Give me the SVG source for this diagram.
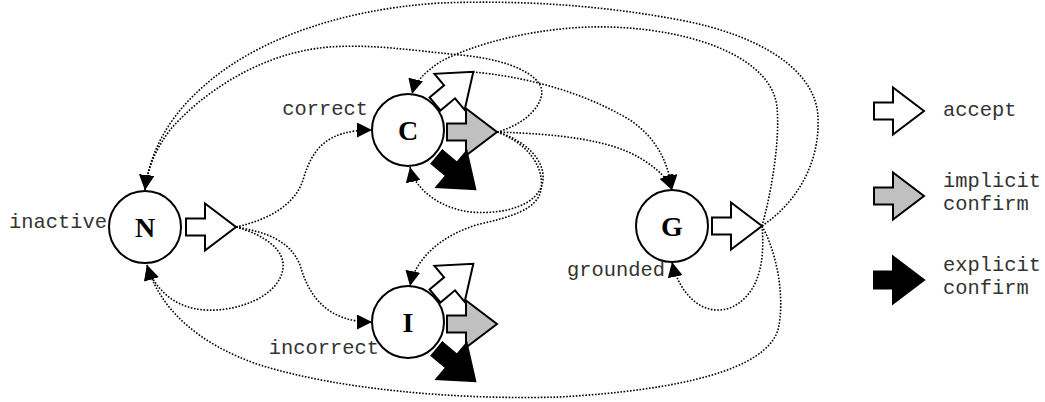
<svg xmlns="http://www.w3.org/2000/svg" width="1045" height="402" viewBox="0 0 1045 402">
<style>
.st{fill:#fff;stroke:#000;stroke-width:2}
.lt{font-family:"Liberation Serif","Times New Roman",serif;font-weight:bold;font-size:28px;text-anchor:middle;fill:#000}
.nm{font-family:"Liberation Mono","Courier New",monospace;font-size:20.4px;fill:#333}
.acc{fill:#fff;stroke:#000;stroke-width:2;stroke-linejoin:miter}
.imp{fill:#c0c0c0;stroke:#000;stroke-width:2;stroke-linejoin:miter}
.exp{fill:#000;stroke:#000;stroke-width:2;stroke-linejoin:miter}
.cn{fill:none;stroke:#000;stroke-width:1.6;stroke-dasharray:1.6 1.6;marker-end:url(#ah)}
.cn0{fill:none;stroke:#000;stroke-width:1.6;stroke-dasharray:1.6 1.6}
</style>
<defs>
<marker id="ah" markerUnits="userSpaceOnUse" markerWidth="15" markerHeight="15" refX="15" refY="7.5" orient="auto">
<path d="M0,0 L15,7.5 L0,15 Z" fill="#000"/>
</marker>
<path id="arr" d="M0,-8.5 L19,-8.5 L19,-23.5 L50,0 L19,23.5 L19,8.5 L0,8.5 Z"/>
</defs>
<rect width="1045" height="402" fill="#fff"/>
<g id="connectors">
<path class="cn" d="M236,227 C268,220 295,205 303,180 C312,150 325,130 372,130"/>
<path class="cn" d="M236,227 C265,232 290,240 300,265 C310,300 330,322 372,322"/>
<path class="cn" d="M236,227 C265,235 285,250 283,268 C280,295 240,312 205,310 C175,308 155,290 147,265"/>
<path class="cn" d="M762,226 C778,255 785,300 778,330 C765,370 680,390 560,397 C460,400 340,390 260,365 C200,345 160,310 147,265"/>
<path class="cn" d="M762,226 C800,200 820,160 818,117 C816,70 760,35 680,20 C600,5 520,0 440,3 C330,10 250,45 205,85 C170,115 150,150 145,190"/>
<path class="cn" d="M762,226 C772,190 780,140 777,107 C772,60 700,30 610,27 C540,25 470,45 440,62 C425,72 415,82 412,94"/>
<path class="cn" d="M473,72 C520,76 580,90 630,120 C655,137 668,160 672,190"/>
<path class="cn" d="M497,132 C560,134 610,140 640,158 C660,170 668,180 672,190"/>
<path class="cn" d="M497,132 C528,124 548,100 540,85 C530,68 495,58 460,55 C410,50 370,44 330,47 C260,52 200,95 170,130 C155,150 147,170 145,190"/>
<path class="cn" d="M497,132 C525,140 545,160 543,180 C540,205 505,215 470,212 C440,208 415,190 410,167"/>
<path class="cn" d="M497,132 C525,142 545,165 541,190 C537,210 510,217 480,224 C440,235 415,260 410,286"/>
<path class="cn" d="M762,226 C765,260 760,295 730,308 C700,318 678,290 672,262"/>
</g>
<g id="node-N">
<circle class="st" cx="145" cy="227" r="36"/>
<text class="lt" x="145" y="236.5">N</text>
<text class="nm" x="107" y="228" text-anchor="end">inactive</text>
<use href="#arr" class="acc" transform="translate(186,227)"/>
</g>
<g id="node-C">
<circle class="st" cx="408" cy="130" r="36"/>
<text class="lt" x="408" y="139.5">C</text>
<text class="nm" x="368" y="115" text-anchor="end">correct</text>
<use href="#arr" class="imp" transform="translate(447,132)"/>
<use href="#arr" class="acc" transform="translate(435,104) rotate(-40)"/>
<use href="#arr" class="exp" transform="translate(437,157) rotate(40)"/>
</g>
<g id="node-I">
<circle class="st" cx="408" cy="322" r="36"/>
<text class="lt" x="408" y="331.5">I</text>
<text class="nm" x="379" y="354" text-anchor="end">incorrect</text>
<use href="#arr" class="imp" transform="translate(447,324)"/>
<use href="#arr" class="acc" transform="translate(435,296) rotate(-40)"/>
<use href="#arr" class="exp" transform="translate(437,349) rotate(40)"/>
</g>
<g id="node-G">
<circle class="st" cx="672" cy="226" r="36"/>
<text class="lt" x="672" y="235.5">G</text>
<text class="nm" x="665" y="276" text-anchor="end">grounded</text>
<use href="#arr" class="acc" transform="translate(712,226)"/>
</g>
<g id="legend-accept">
<use href="#arr" class="acc" transform="translate(874,111)"/>
<text class="nm" x="943" y="116">accept</text>
</g>
<g id="legend-implicit">
<use href="#arr" class="imp" transform="translate(874,196)"/>
<text class="nm" x="943" y="187">implicit</text>
<text class="nm" x="943" y="210">confirm</text>
</g>
<g id="legend-explicit">
<use href="#arr" class="exp" transform="translate(874,280)"/>
<text class="nm" x="943" y="271">explicit</text>
<text class="nm" x="943" y="294">confirm</text>
</g>
</svg>
